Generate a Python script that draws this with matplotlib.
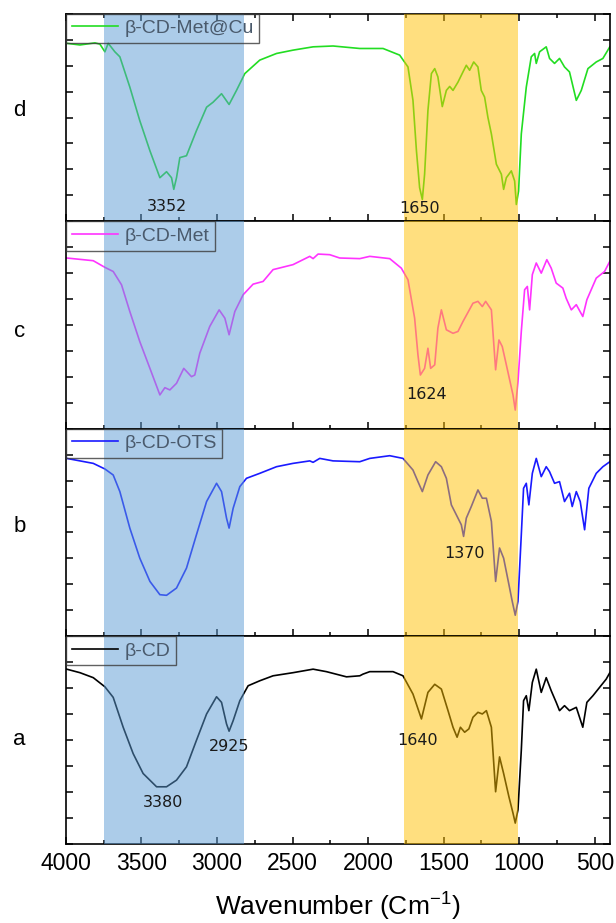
import matplotlib.pyplot as plt
from matplotlib.ticker import MultipleLocator

# FTIR spectra, transmittance (arbitrary %, per panel)
d_wn = [3995, 3907, 3808, 3775, 3742, 3720, 3676, 3643, 3577, 3511, 3444, 3378, 3334, 3301,
        3286, 3268, 3246, 3202, 3136, 3069, 3026, 2970, 2920, 2871, 2816, 2717, 2606, 2497,
        2364, 2232, 2055, 1901, 1791, 1736, 1703, 1680, 1659, 1641, 1626, 1604, 1581, 1559,
        1538, 1509, 1482, 1460, 1438, 1405, 1372, 1350, 1328, 1301, 1273, 1251, 1229, 1207,
        1184, 1151, 1118, 1103, 1085, 1052, 1030, 1019, 1004, 986, 953, 920, 898, 887, 865,
        821, 799, 766, 733, 700, 667, 622, 589, 545, 490, 446, 400]
d_t = [85.8, 85.0, 86.0, 85.4, 81.7, 85.8, 81.7, 79.3, 64.7, 48.5, 34.0, 21.0, 23.9, 21.0,
       15.4, 21.0, 30.7, 31.6, 43.7, 55.0, 57.4, 61.5, 56.3, 63.1, 71.2, 77.7, 80.9, 82.5,
       84.1, 84.5, 83.3, 83.3, 80.1, 74.4, 58.3, 34.0, 16.2, 10.5, 22.7, 53.4, 71.2, 73.6,
       69.6, 55.3, 63.1, 65.0, 63.1, 67.1, 72.0, 75.2, 72.8, 76.8, 74.4, 63.1, 59.9, 50.1,
       42.1, 27.5, 22.7, 15.4, 21.0, 24.3, 19.4, 8.1, 14.6, 42.1, 64.7, 79.3, 80.9, 76.1, 81.7,
       84.1, 78.5, 76.1, 78.5, 74.4, 72.0, 58.3, 63.1, 73.6, 76.8, 78.5, 84.1]

c_wn = [3995, 3819, 3742, 3687, 3632, 3577, 3511, 3444, 3378, 3345, 3312, 3268, 3220, 3169,
        3147, 3114, 3048, 2986, 2948, 2920, 2882, 2827, 2761, 2695, 2629, 2497, 2386, 2364,
        2331, 2254, 2188, 2055, 1989, 1857, 1780, 1736, 1692, 1670, 1654, 1626, 1604, 1586,
        1559, 1538, 1515, 1482, 1438, 1405, 1372, 1306, 1273, 1244, 1222, 1184, 1156, 1134,
        1112, 1085, 1041, 1026, 1008, 986, 964, 946, 931, 913, 887, 854, 817, 788, 755, 711,
        689, 655, 622, 579, 552, 490, 435, 400]
c_t = [82.3, 81.0, 77.8, 75.8, 69.4, 56.5, 42.0, 29.1, 16.3, 19.8, 18.7, 21.9, 29.1, 25.1,
       25.9, 36.4, 49.3, 57.3, 53.3, 45.3, 56.5, 64.6, 69.7, 71.0, 76.7, 79.1, 83.1, 82.0,
       84.2, 83.9, 82.3, 82.0, 83.1, 82.0, 77.4, 71.8, 53.3, 35.6, 25.9, 29.1, 38.8, 29.1,
       30.8, 48.5, 57.3, 47.7, 46.0, 46.9, 51.7, 60.5, 61.4, 58.9, 61.4, 57.3, 28.4, 42.8,
       39.6, 30.8, 16.3, 9.0, 22.7, 46.9, 67.0, 68.6, 57.3, 74.3, 79.9, 75.0, 81.5, 77.4, 70.2,
       67.8, 62.9, 57.3, 59.8, 54.1, 62.2, 72.6, 75.8, 80.7]

b_wn = [3995, 3819, 3742, 3687, 3643, 3577, 3511, 3444, 3378, 3334, 3268, 3202, 3136, 3069,
        3003, 2970, 2937, 2920, 2893, 2849, 2805, 2717, 2606, 2497, 2386, 2364, 2320, 2232,
        2055, 1989, 1857, 1769, 1703, 1670, 1641, 1604, 1553, 1515, 1482, 1449, 1405, 1383,
        1368, 1350, 1317, 1273, 1244, 1217, 1184, 1156, 1130, 1103, 1068, 1046, 1026, 1008,
        986, 971, 953, 936, 913, 887, 854, 821, 799, 766, 733, 700, 667, 649, 622, 596, 567,
        539, 490, 446, 400]
b_t = [85.7, 83.3, 80.6, 77.7, 69.7, 52.1, 37.6, 26.4, 20.0, 19.7, 23.2, 32.8, 48.9, 64.9,
       73.7, 69.7, 56.9, 52.1, 61.7, 72.1, 76.1, 78.5, 81.7, 83.3, 84.5, 83.8, 85.7, 84.5,
       84.1, 85.7, 87.0, 85.7, 80.1, 74.5, 69.7, 77.7, 84.1, 81.7, 76.1, 63.3, 56.9, 53.7,
       48.1, 56.9, 62.5, 70.5, 66.5, 66.5, 55.3, 26.4, 42.5, 37.6, 24.9, 16.8, 10.1, 16.8,
       48.9, 71.3, 73.7, 63.3, 78.5, 85.7, 76.9, 81.7, 79.3, 73.7, 74.5, 64.9, 68.9, 62.5,
       69.7, 64.9, 51.3, 71.3, 78.5, 81.7, 84.1]

a_wn = [3995, 3907, 3819, 3742, 3687, 3621, 3555, 3489, 3400, 3334, 3268, 3202, 3136, 3069,
        3003, 2970, 2937, 2920, 2893, 2849, 2794, 2717, 2629, 2497, 2364, 2276, 2143, 2055,
        2034, 1989, 1835, 1769, 1703, 1647, 1604, 1559, 1515, 1471, 1438, 1411, 1389, 1361,
        1333, 1306, 1273, 1244, 1217, 1184, 1156, 1130, 1103, 1068, 1041, 1026, 1008, 986,
        971, 953, 936, 913, 887, 854, 821, 788, 755, 733, 700, 667, 622, 579, 552, 512, 468,
        424, 400]
a_t = [84.1, 82.4, 80.0, 75.6, 70.5, 56.1, 43.4, 33.8, 27.4, 27.4, 30.6, 37.0, 49.8, 62.5,
       70.8, 68.1, 57.7, 54.2, 59.3, 68.9, 76.1, 78.5, 80.9, 82.4, 84.1, 82.9, 80.4, 80.9,
       81.7, 82.9, 82.9, 80.9, 72.1, 60.1, 72.9, 76.8, 74.5, 64.1, 56.1, 51.3, 56.1, 53.7,
       55.3, 60.9, 63.3, 62.5, 64.1, 56.1, 25.0, 41.8, 33.8, 22.6, 14.7, 9.9, 16.3, 45.0,
       68.9, 71.3, 64.1, 77.7, 84.1, 72.9, 80.0, 73.7, 68.1, 64.1, 66.5, 64.1, 65.7, 56.1,
       68.1, 71.3, 75.3, 79.3, 82.4]

# top to bottom
labels = ["β-CD-Met@Cu", "β-CD-Met", "β-CD-OTS", "β-CD"]
letters = ["d", "c", "b", "a"]
wavenumbers = [d_wn, c_wn, b_wn, a_wn]
spectra = [d_t, c_t, b_t, a_t]
colors = ["#22dd22", "#ff33ff", "#1a1aff", "black"]

# peak labels: (panel index, wavenumber, y, text)
peak_labels = [(0, 3332, 7.3, "3352"), (0, 1659, 6.3, "1650"),
               (1, 1612, 16.4, "1624"),
               (2, 1361, 39.9, "1370"),
               (3, 3358, 19.6, "3380"), (3, 2922, 46.9, "2925"), (3, 1672, 49.8, "1640")]

blue_band = (3750, 2820)
orange_band = (1760, 1010)

fig, axes = plt.subplots(4, 1, sharex=True, figsize=(6.16, 9.23), dpi=100)
fig.subplots_adjust(left=0.107, right=0.99, top=0.985, bottom=0.086, hspace=0)

letter_y = [0.534, 0.469, 0.529, 0.50]

for i, ax in enumerate(axes):
    ax.plot(wavenumbers[i], spectra[i], color=colors[i], lw=1.2, label=labels[i], zorder=2)
    # bands sit over the traces, like in the original
    ax.axvspan(*blue_band, color="#5b9bd5", alpha=0.5, lw=0, zorder=3)
    ax.axvspan(*orange_band, color="#ffc000", alpha=0.5, lw=0, zorder=3)

    ax.set_xlim(4000, 400)
    ax.set_ylim(0, 100)
    ax.xaxis.set_major_locator(MultipleLocator(500))
    ax.xaxis.set_minor_locator(MultipleLocator(250))
    ax.yaxis.set_major_locator(MultipleLocator(12.5))
    ax.set_yticklabels([])
    ax.tick_params(axis="both", which="both", direction="in", left=True, right=True,
                   top=(i == 0), bottom=True, width=1.1)
    ax.tick_params(axis="both", which="major", length=5)
    ax.tick_params(axis="x", which="minor", length=3)
    ax.tick_params(axis="x", labelsize=16.5, pad=6)
    for s in ax.spines.values():
        s.set_linewidth(1.2)

    leg = ax.legend(loc="upper left", borderaxespad=0, fancybox=False,
                    handlelength=2.4, handletextpad=0.3, borderpad=0.3,
                    prop={"family": "Liberation Sans", "size": 14})
    frame = leg.get_frame()
    frame.set_facecolor("none")
    frame.set_edgecolor("#3a3a3a")
    frame.set_linewidth(1.0)
    for t in leg.get_texts():
        t.set_color("#4a5a6c")
    leg.set_zorder(5)

    ax.text(-0.085, letter_y[i], letters[i], transform=ax.transAxes, ha="center",
            va="center", fontsize=16, family="Liberation Sans")

for p, x, y, txt in peak_labels:
    axes[p].text(x, y, txt, ha="center", va="center", fontsize=11.5, color="#1a1a1a", zorder=4)

for lab in axes[-1].get_xticklabels():
    lab.set_family("Liberation Sans")
axes[-1].set_xlabel("Wavenumber (Cm$^{\\mathregular{-1}}$)", fontsize=19,
                    family="Liberation Sans", labelpad=10)

plt.savefig("out.png", dpi=100)
